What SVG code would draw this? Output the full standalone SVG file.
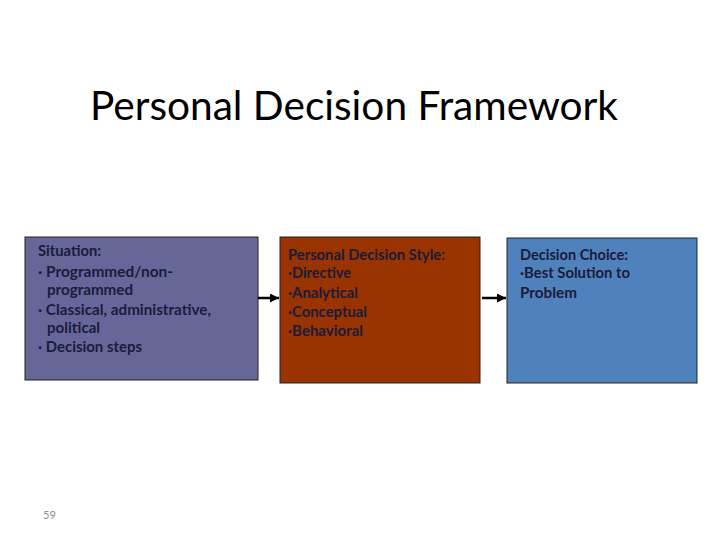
<svg xmlns="http://www.w3.org/2000/svg" width="720" height="540" viewBox="0 0 720 540">
<defs>
<style>
.title{font-family:Lato,"Liberation Sans",sans-serif;font-size:40px;fill:#000}
.t{font-family:Lato,"Liberation Sans",sans-serif;font-size:14.5px;font-weight:bold;fill:#1b1b3a}
.box{stroke:#222;stroke-width:1}
.conn{stroke:#000;stroke-width:2.5;fill:none}
.pg{font-family:Lato,"Liberation Sans",sans-serif;font-size:11px;fill:#8c8c8c}
</style>
<marker id="ah" viewBox="0 0 10 10" refX="10" refY="5" markerWidth="3.6" markerHeight="3.6" orient="auto" markerUnits="strokeWidth">
<path d="M0,0 L10,5 L0,10 z" fill="#000"/>
</marker>
</defs>
<rect width="720" height="540" fill="#fff"/>
<text class="title" x="90" y="120" textLength="528" lengthAdjust="spacingAndGlyphs">Personal Decision Framework</text>
<g id="situation">
<rect class="box" x="25" y="237" width="233" height="143" fill="#666699"/>
<text class="t" x="38" y="256" textLength="63" lengthAdjust="spacingAndGlyphs">Situation:</text>
<text class="t" x="38" y="277" textLength="135" lengthAdjust="spacingAndGlyphs">· Programmed/non-</text>
<text class="t" x="47" y="295" textLength="86" lengthAdjust="spacingAndGlyphs">programmed</text>
<text class="t" x="38" y="315" textLength="173" lengthAdjust="spacingAndGlyphs">· Classical, administrative,</text>
<text class="t" x="47" y="333" textLength="53" lengthAdjust="spacingAndGlyphs">political</text>
<text class="t" x="38" y="352" textLength="104" lengthAdjust="spacingAndGlyphs">· Decision steps</text>
</g>
<g id="style">
<rect class="box" x="280" y="237" width="200" height="146" fill="#993300"/>
<text class="t" x="288" y="260" textLength="157" lengthAdjust="spacingAndGlyphs">Personal Decision Style:</text>
<text class="t" x="288" y="278" textLength="63" lengthAdjust="spacingAndGlyphs">·Directive</text>
<text class="t" x="288" y="298" textLength="70" lengthAdjust="spacingAndGlyphs">·Analytical</text>
<text class="t" x="288" y="317" textLength="79" lengthAdjust="spacingAndGlyphs">·Conceptual</text>
<text class="t" x="288" y="336" textLength="75" lengthAdjust="spacingAndGlyphs">·Behavioral</text>
</g>
<g id="choice">
<rect class="box" x="507" y="238" width="190" height="145" fill="#4f81bd"/>
<text class="t" x="520" y="260" textLength="108" lengthAdjust="spacingAndGlyphs">Decision Choice:</text>
<text class="t" x="520" y="278" textLength="110" lengthAdjust="spacingAndGlyphs">·Best Solution to</text>
<text class="t" x="520" y="298" textLength="57" lengthAdjust="spacingAndGlyphs">Problem</text>
</g>
<g id="connectors">
<line class="conn" x1="258" y1="298" x2="279" y2="298" marker-end="url(#ah)"/>
<line class="conn" x1="482" y1="298" x2="506" y2="298" marker-end="url(#ah)"/>
</g>
<text class="pg" x="43" y="519">59</text>
</svg>
